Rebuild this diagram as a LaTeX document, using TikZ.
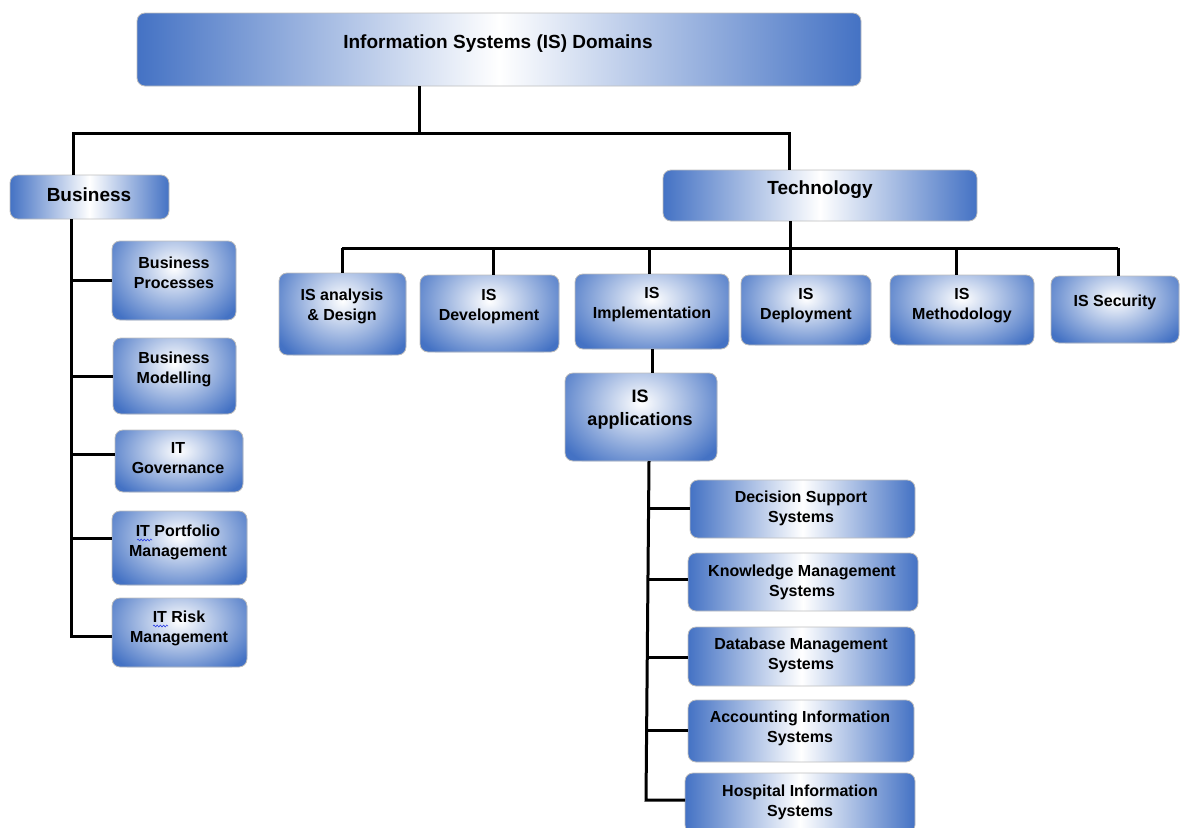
\documentclass[tikz,border=0pt]{standalone}
\usepackage{fontspec}
\setmainfont{Liberation Sans}
\usetikzlibrary{decorations.pathmorphing}

\definecolor{boxblue}{RGB}{68,114,196}
\definecolor{boxedge}{RGB}{190,190,190}
\definecolor{spellblue}{RGB}{40,60,230}

\tikzset{
  basebox/.style={draw=boxedge, line width=0.8pt, rounded corners=8pt,
    inner sep=0pt, outer sep=0pt},
  % blue at both ends, white in the middle
  widebox/.style={basebox, left color=boxblue, right color=boxblue, middle color=white},
  % white glow near the top centre, blue towards the corners
  smallbox/.style={basebox, fill=boxblue,
    path picture={
      \shade[inner color=white, outer color=boxblue]
        ([yshift=0.16*\pgfkeysvalueof{/pgf/minimum height}]path picture bounding box.center)
        ellipse [x radius=0.62*\pgfkeysvalueof{/pgf/minimum width},
                 y radius=0.85*\pgfkeysvalueof{/pgf/minimum height}];
    }},
  txt/.style={align=center, font=\bfseries\fontsize{16}{20}\selectfont, inner sep=0pt},
  bigtxt/.style={align=center, font=\bfseries\fontsize{19}{23}\selectfont, inner sep=0pt},
  apptxt/.style={align=center, font=\bfseries\fontsize{18}{23}\selectfont, inner sep=0pt},
  link/.style={line width=3pt, draw=black},
  spell/.style={draw=spellblue, line width=0.6pt, decorate,
    decoration={snake, amplitude=0.9pt, segment length=3.2pt}}
}

\begin{document}
\begin{tikzpicture}[x=1pt, y=-1pt]
\useasboundingbox (0,0) rectangle (1180,827);
\clip (0,0) rectangle (1180,827);

% ---------- boxes ----------
\node[widebox, minimum width=724, minimum height=73] (title) at (499,49.5) {};
\node[bigtxt] (title-t) at (498,44) {Information Systems (IS) Domains};

\node[widebox, minimum width=159, minimum height=44] (bus) at (89.5,197) {};
\node[bigtxt] (bus-t) at (89,195) {Business};

\node[widebox, minimum width=314, minimum height=51] (tech) at (820,195.5) {};
\node[bigtxt] (tech-t) at (820,190) {Technology};

% business branch
\node[smallbox, minimum width=124, minimum height=79] (bp) at (174,280.5) {};
\node[txt] (bp-t) at (174,272.5) {Business\\Processes};
\node[smallbox, minimum width=123, minimum height=76] (bm) at (174.5,376) {};
\node[txt] (bm-t) at (174,369.5) {Business\\Modelling};
\node[smallbox, minimum width=128, minimum height=62] (itg) at (179,461) {};
\node[txt] (itg-t) at (178,458.5) {IT\\Governance};
\node[smallbox, minimum width=135, minimum height=74] (itpm) at (179.5,548) {};
\node[txt] (itpm-t) at (178,542.5) {IT Portfolio\\Management};
\node[smallbox, minimum width=135, minimum height=69] (itrm) at (179.5,632.5) {};
\node[txt] (itrm-t) at (179,628.5) {IT Risk\\Management};

% technology branch
\node[smallbox, minimum width=127, minimum height=82] (isad) at (342.5,314) {};
\node[txt] (isad-t) at (342,306.5) {IS analysis\\\& Design};
\node[smallbox, minimum width=139, minimum height=77] (isdev) at (489.5,313.5) {};
\node[txt] (isdev-t) at (489,306.5) {IS\\Development};
\node[smallbox, minimum width=154, minimum height=75] (isimp) at (652,311.5) {};
\node[txt] (isimp-t) at (652,304.5) {IS\\Implementation};
\node[smallbox, minimum width=130, minimum height=70] (isdep) at (806,310) {};
\node[txt] (isdep-t) at (806,305.5) {IS\\Deployment};
\node[smallbox, minimum width=144, minimum height=70] (ismeth) at (962,310) {};
\node[txt] (ismeth-t) at (962,305.5) {IS\\Methodology};
\node[smallbox, minimum width=128, minimum height=67] (issec) at (1115,309.5) {};
\node[txt] (issec-t) at (1115,302.5) {IS Security};

% applications
\node[smallbox, minimum width=152, minimum height=88] (isapp) at (641,417) {};
\node[apptxt] (isapp-t) at (640,410) {IS\\applications};

\node[widebox, minimum width=225, minimum height=58] (dss) at (802.5,509) {};
\node[txt] (dss-t) at (801,508.5) {Decision Support\\Systems};
\node[widebox, minimum width=230, minimum height=58] (kms) at (803,582) {};
\node[txt] (kms-t) at (802,582.5) {Knowledge Management\\Systems};
\node[widebox, minimum width=227, minimum height=59] (dbms) at (801.5,656.5) {};
\node[txt] (dbms-t) at (801,655.5) {Database Management\\Systems};
\node[widebox, minimum width=226, minimum height=62] (ais) at (801,731) {};
\node[txt] (ais-t) at (800,728.5) {Accounting Information\\Systems};
\node[widebox, minimum width=230, minimum height=60] (his) at (800,803) {};
\node[txt] (his-t) at (800,802.5) {Hospital Information\\Systems};

% ---------- connectors ----------
\coordinate (trunk) at (419,133);
\coordinate (jb) at (73,133);
\coordinate (jt) at (789,133);
\draw[link] (title.south -| trunk) -- (trunk);
\draw[link] (jb |- bus.north) -- (jb) -- (jt) -- (jt |- tech.north);

% business spine
\coordinate (bs) at (71,636);
\draw[link] (bs |- bus.south) -- (bs) -- (itrm.west |- bs);
\draw[link] (71,280) -- (bp.west |- 0,280);
\draw[link] (71,376) -- (bm.west |- 0,376);
\draw[link] (71,454) -- (itg.west |- 0,454);
\draw[link] (71,538) -- (itpm.west |- 0,538);

% technology bar
\coordinate (tbar) at (790,248);
\coordinate (tl) at (342,248);
\coordinate (tr) at (1118,248);
\draw[link] (tech.south -| tbar) -- (tbar);
\draw[link] (tl) -- (tr);
\draw[link] (tl) -- (tl |- isad.north);
\draw[link] (493,248) -- (493,0 |- isdev.north);
\draw[link] (649,248) -- (649,0 |- isimp.north);
\draw[link] (tbar) -- (tbar |- isdep.north);
\draw[link] (956,248) -- (956,0 |- ismeth.north);
\draw[link] (tr) -- (tr |- issec.north);

% implementation to applications
\draw[link] (isimp.south) -- (isapp.north -| isimp.south);

% applications spine
\coordinate (as-top) at (649,461);
\coordinate (as-bot) at (646,800);
\draw[link] (as-top) -- (as-bot) -- (his.west |- as-bot);
\draw[link] (648.6,508) -- (dss.west |- 0,508);
\draw[link] (648.0,579) -- (kms.west |- 0,579);
\draw[link] (647.3,657) -- (dbms.west |- 0,657);
\draw[link] (646.7,730) -- (ais.west |- 0,730);

% spell-check marks under "IT"
\draw[spell] (137,540) -- (152,540);
\draw[spell] (153,626) -- (168,626);
\end{tikzpicture}
\end{document}
